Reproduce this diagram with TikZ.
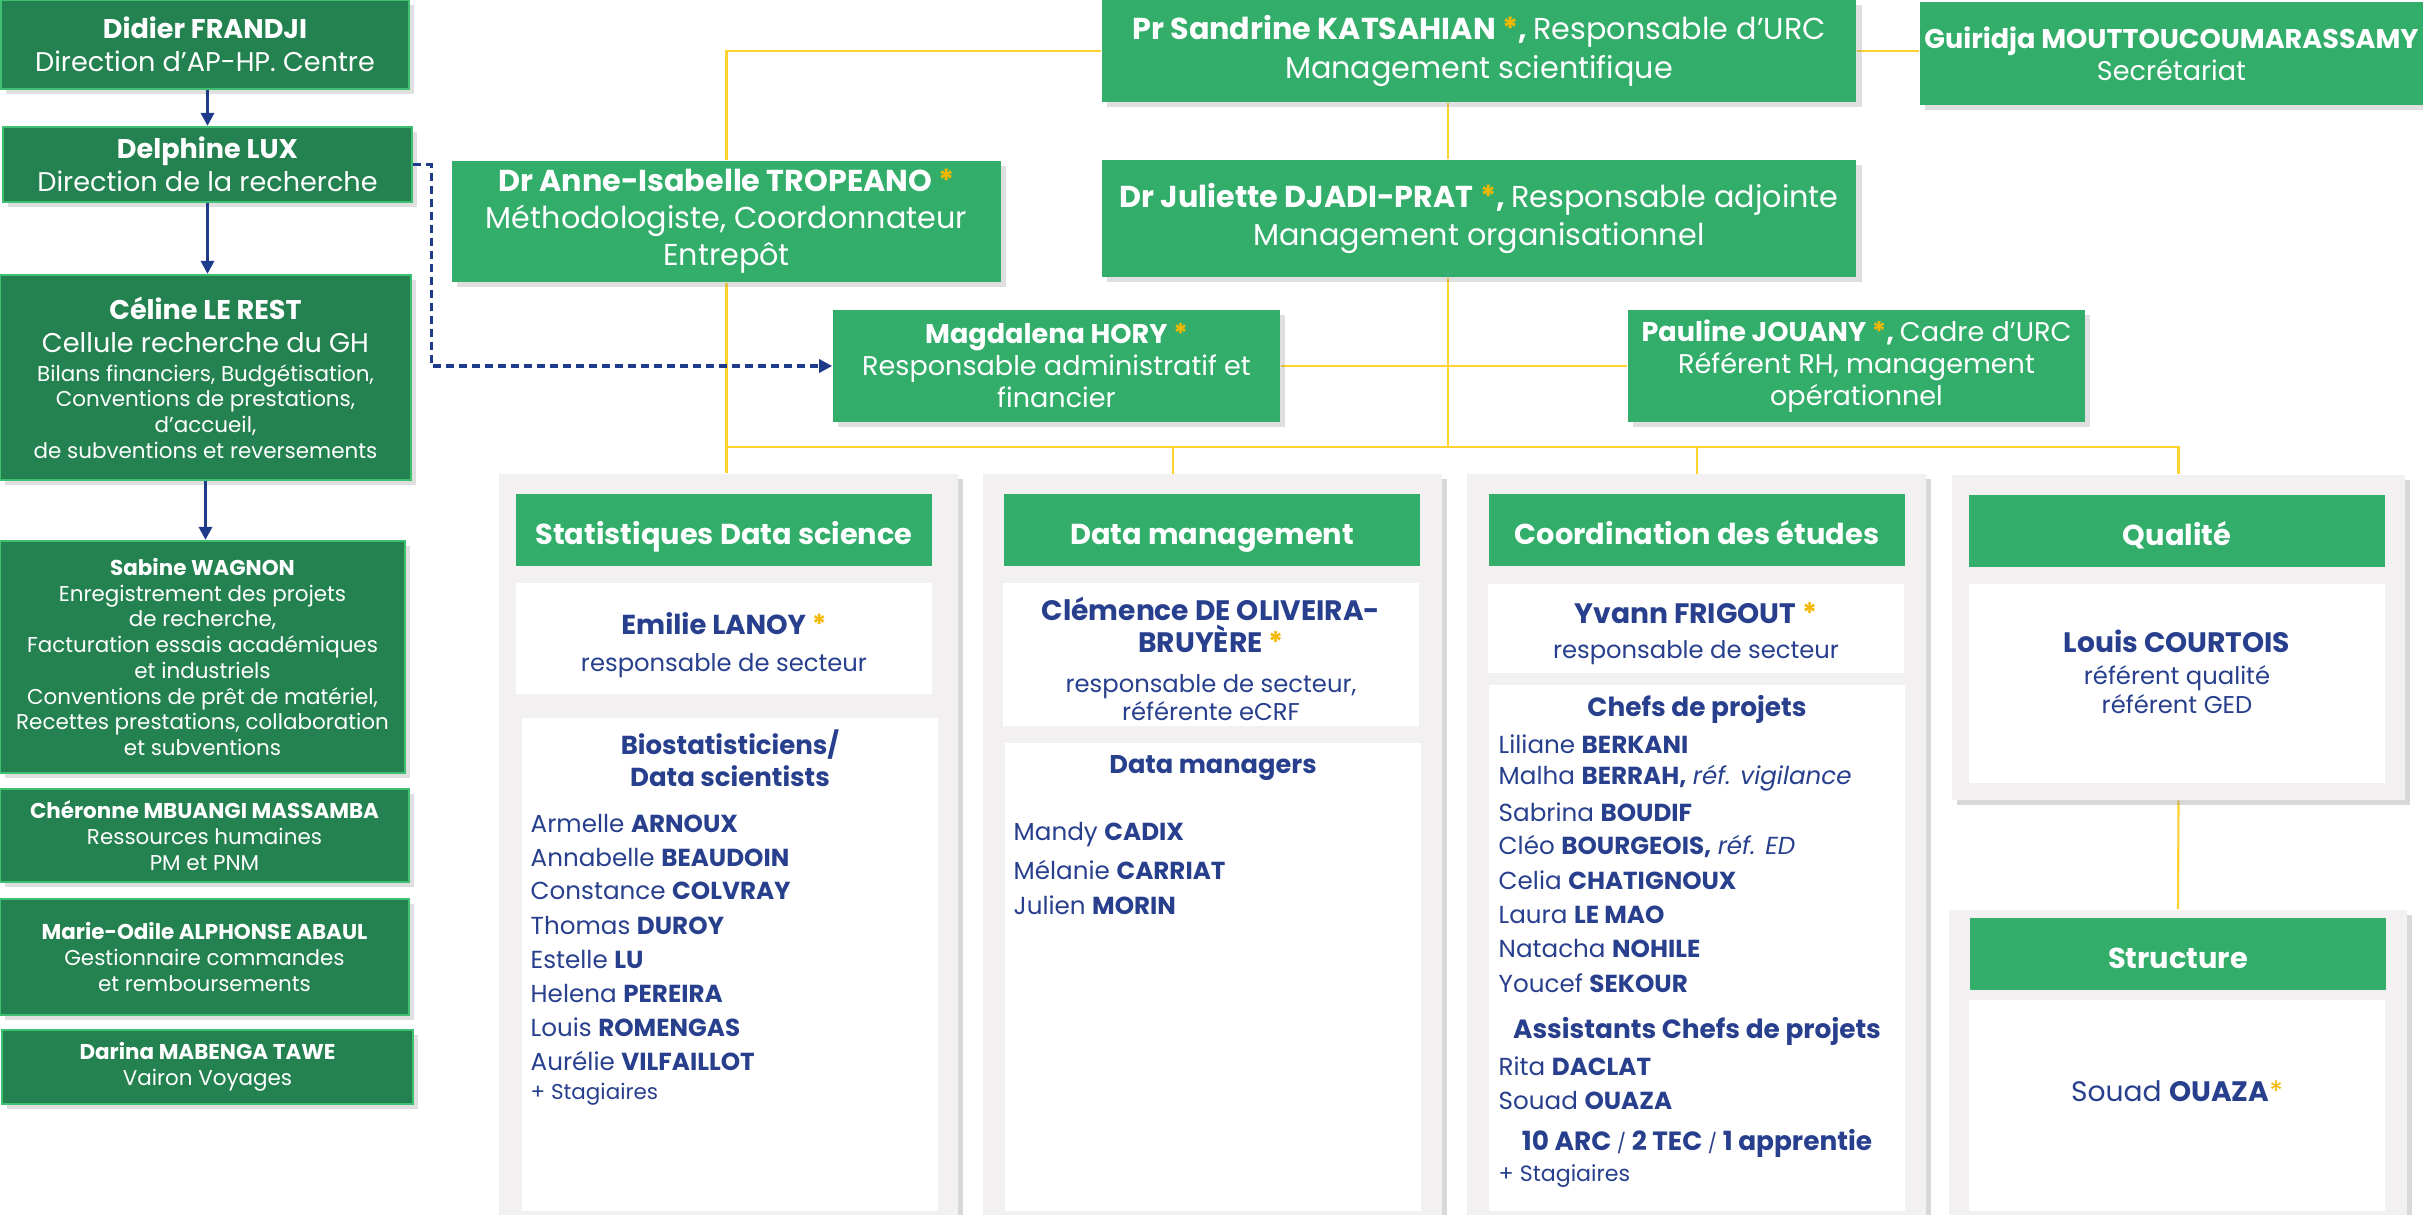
\documentclass[tikz,border=0pt]{standalone}
\usepackage{fontspec}
\setmainfont{Poppins}
\usetikzlibrary{arrows.meta,shadows,backgrounds}

\definecolor{urcgreen}{HTML}{32AD6A}
\definecolor{darkgreen}{HTML}{248250}
\definecolor{rimgreen}{HTML}{3FBF72}
\definecolor{navy}{HTML}{273F8D}
\definecolor{gold}{HTML}{FFD230}
\definecolor{star}{HTML}{F5B800}
\definecolor{panelgray}{HTML}{F2F0F0}
\definecolor{arrowblue}{HTML}{1E3A8A}

\newcommand{\fsz}[2]{\fontsize{#1}{#2}\selectfont}
\newcommand{\ystar}{{\color{star}*}}
\newcommand{\smalltxt}{\fsz{6.1}{7.3}}
\newcommand{\roletxt}{\fsz{6.9}{8}\mdseries}

\begin{document}
\begin{tikzpicture}[x=0.01cm, y=-0.01cm,
  lbox/.style={draw=rimgreen, line width=0.6pt, fill=darkgreen, text=white, align=center, inner sep=0pt,
    drop shadow={shadow xshift=1.5pt, shadow yshift=-1.5pt, opacity=0.25}},
  tbox/.style={fill=urcgreen, text=white, align=center, inner sep=0pt,
    drop shadow={shadow xshift=1.5pt, shadow yshift=-1.5pt, opacity=0.25}},
  greypanel/.style={fill=panelgray, inner sep=0pt, minimum width=4.59cm, anchor=north,
    drop shadow={shadow xshift=1.5pt, shadow yshift=-1.5pt, opacity=0.3}},
  secthead/.style={fill=urcgreen, text=white, inner sep=0pt, minimum width=4.16cm, minimum height=0.72cm,
    text height=8pt, text depth=0pt, font=\fsz{8.2}{10}\bfseries},
  wbox/.style={fill=white, inner sep=0pt, minimum width=4.16cm},
  navytxt/.style={text=navy, align=center, inner sep=0pt},
  person/.style={text=navy, anchor=west, inner sep=0pt, font=\fsz{7}{8}},
  goldline/.style={draw=gold, line width=0.6pt},
  bluearrow/.style={draw=arrowblue, line width=0.9pt, -{Triangle[length=0.13cm, width=0.13cm]}},
  bluedash/.style={bluearrow, dash pattern=on 0.08cm off 0.05cm}]

\useasboundingbox (0,0) rectangle (2423,1215);

% left column
\node[lbox, minimum width=4.08cm, minimum height=0.89cm, font=\fsz{7.7}{9.4}] (frandji) at (205,44.5) {\textbf{Didier FRANDJI}\\Direction d’AP-HP. Centre};
\node[lbox, minimum width=4.09cm, minimum height=0.75cm, font=\fsz{7.7}{9.4}] (lux) at (207.5,164.5) {\textbf{Delphine LUX}\\Direction de la recherche};
\node[lbox, minimum width=4.11cm, minimum height=2.05cm, font=\fsz{7.7}{9.4}] (lerest) at (205.5,377.5) {\textbf{Céline LE REST}\\Cellule recherche du GH\\[-1.1pt]{\smalltxt Bilans financiers, Budgétisation,}\\[-2.1pt]{\smalltxt Conventions de prestations,}\\[-2.1pt]{\smalltxt d’accueil,}\\[-2.1pt]{\smalltxt de subventions et reversements}};
\node[lbox, minimum width=4.05cm, minimum height=2.32cm, font=\fsz{6.1}{7.3}] (wagnon) at (202.5,657) {\textbf{Sabine WAGNON}\\Enregistrement des projets\\de recherche,\\Facturation essais académiques\\et industriels\\Conventions de prêt de matériel,\\Recettes prestations, collaboration\\et subventions};
\node[lbox, minimum width=4.09cm, minimum height=0.93cm, font=\fsz{6.1}{7.4}] (mbuangi) at (204.5,835.5) {\textbf{Chéronne MBUANGI MASSAMBA}\\Ressources humaines\\PM et PNM};
\node[lbox, minimum width=4.09cm, minimum height=1.16cm, font=\fsz{6.1}{7.4}] (alphonse) at (204.5,957) {\textbf{Marie-Odile ALPHONSE ABAUL}\\Gestionnaire commandes\\et remboursements};
\node[lbox, minimum width=4.11cm, minimum height=0.74cm, font=\fsz{6.1}{7.4}] (mabenga) at (207.5,1067) {\textbf{Darina MABENGA TAWE}\\Vairon Voyages};

% direction
\node[tbox, minimum width=7.54cm, minimum height=1.02cm, font=\fsz{8.6}{11}] (katsahian) at (1479,51) {\textbf{Pr Sandrine KATSAHIAN \ystar, }Responsable d’URC\\Management scientifique};
\node[tbox, minimum width=5.03cm, minimum height=1.03cm, font=\fsz{7.7}{9.1}] (guiridja) at (2171.5,53.5) {\textbf{Guiridja MOUTTOUCOUMARASSAMY}\\Secrétariat};
\node[tbox, minimum width=7.54cm, minimum height=1.17cm, font=\fsz{8.6}{10.8}] (djadi) at (1479,218.5) {\textbf{Dr Juliette DJADI-PRAT \ystar, }Responsable adjointe\\Management organisationnel};
\node[tbox, minimum width=5.49cm, minimum height=1.21cm, font=\fsz{8.6}{10.5}] (tropeano) at (726.5,221.5) {\textbf{Dr Anne-Isabelle TROPEANO \ystar}\\Méthodologiste, Coordonnateur\\Entrepôt};
\node[tbox, minimum width=4.47cm, minimum height=1.12cm, font=\fsz{7.7}{9.1}] (hory) at (1056.5,366) {\textbf{Magdalena HORY \ystar}\\Responsable administratif et\\financier};
\node[tbox, minimum width=4.57cm, minimum height=1.12cm, font=\fsz{7.7}{9.1}] (jouany) at (1856.5,366) {\textbf{Pauline JOUANY \ystar, }Cadre d’URC\\Référent RH, management\\opérationnel};

% sectors
\node[greypanel, minimum height=7.5cm] (statspanel) at (728.5,473) {};
\node[greypanel, minimum height=7.5cm] (dmpanel) at (1212.5,473) {};
\node[greypanel, minimum height=7.5cm] (coordpanel) at (1696.5,473) {};
\node[greypanel, minimum height=3.25cm, minimum width=4.53cm] (qualpanel) at (2178.5,474) {};
\node[greypanel, minimum height=3.2cm, minimum width=4.58cm] (structpanel) at (2178,909) {};

\node[secthead] (statshead) at (724,530) {Statistiques Data science};
\node[secthead] (dmhead) at (1212,530) {Data management};
\node[secthead] (coordhead) at (1697,530) {Coordination des études};
\node[secthead] (qualhead) at (2177,531) {Qualité};
\node[secthead] (structhead) at (2178,954) {Structure};

\node[wbox, minimum height=1.11cm] (lanoybox) at (724,638.5) {};
\node[wbox, minimum height=4.93cm, anchor=north] (biobox) at (730,717) {};
\node[wbox, minimum height=1.43cm] (oliveirabox) at (1211,654.5) {};
\node[wbox, minimum height=4.68cm, anchor=north] (dmbox) at (1213,742) {};
\node[wbox, minimum height=0.89cm] (frigoutbox) at (1696,628.5) {};
\node[wbox, minimum height=5.26cm, anchor=north] (chefsbox) at (1697,684) {};
\node[wbox, minimum height=1.99cm] (courtoisbox) at (2177,683.5) {};
\node[wbox, minimum height=2.11cm, anchor=north] (ouazabox) at (2177,999) {};

% statistiques
\node[navytxt, font=\fsz{7.8}{10.5}] (lanoy) at (724,645) {\textbf{Emilie LANOY \ystar}\\{\roletxt responsable de secteur}};
\node[navytxt, font=\fsz{7.4}{9.1}\bfseries] (biotitle) at (730,758) {Biostatisticiens/\\Data scientists};
\foreach \first/\last [count=\i from 0] in {Armelle/ARNOUX, Annabelle/BEAUDOIN, Constance/COLVRAY, Thomas/DUROY, Estelle/LU, Helena/PEREIRA, Louis/ROMENGAS, Aurélie/VILFAILLOT}
  \node[person] (bio\i) at (530,{823+34*\i}) {\first\ \textbf{\last}};
\node[person, font=\fsz{6.1}{7}] (biostag) at (530,1094) {+ Stagiaires};

% data management
\node[navytxt, font=\fsz{8}{9.1}\bfseries] (oliveira) at (1211,659) {Clémence DE OLIVEIRA-\\BRUYÈRE \ystar\\[2.3pt]{\roletxt responsable de secteur,}\\[-1.1pt]{\roletxt référente eCRF}};
\node[navytxt, font=\fsz{7.3}{9}\bfseries] (dmtitle) at (1213,768) {Data managers};
\foreach \first/\last [count=\i from 0] in {Mandy/CADIX, Mélanie/CARRIAT, Julien/MORIN}
  \node[person] (dm\i) at (1013,{835+35*\i}) {\first\ \textbf{\last}};

% coordination
\node[navytxt, font=\fsz{8}{10}\bfseries] (frigout) at (1696,634) {Yvann FRIGOUT \ystar\\{\roletxt responsable de secteur}};
\node[navytxt, font=\fsz{7.5}{9}\bfseries] (chefstitle) at (1697,709) {Chefs de projets};
\foreach \first/\last/\note [count=\i from 0] in {Liliane/BERKANI/{}, Malha/{BERRAH,}/réf. vigilance, Sabrina/BOUDIF/{}, Cléo/{BOURGEOIS,}/réf. ED, Celia/CHATIGNOUX/{}, Laura/LE MAO/{}, Natacha/NOHILE/{}, Youcef/SEKOUR/{}}
  \node[person] (cp\i) at (1498,{744+34.1*\i}) {\first\ \textbf{\last} \textit{\note}};
\node[navytxt, font=\fsz{7.5}{9}\bfseries] (asstitle) at (1697,1031) {Assistants Chefs de projets};
\node[person] (daclat) at (1498,1066) {Rita \textbf{DACLAT}};
\node[person] (ouazaacp) at (1498,1100) {Souad \textbf{OUAZA}};
\node[navytxt, font=\fsz{7.5}{9}\bfseries] (arctec) at (1697,1143) {10 ARC {\mdseries\fsz{5.5}{6}/} 2 TEC {\mdseries\fsz{5.5}{6}/} 1 apprentie};
\node[person, font=\fsz{6.3}{7}] (coordstag) at (1498,1176) {+ Stagiaires};

% qualite, structure
\node[navytxt, font=\fsz{8}{9.1}\bfseries] (courtois) at (2177,672) {Louis COURTOIS\\{\roletxt référent qualité}\\[-0.9pt]{\roletxt référent GED}};
\node[navytxt, font=\fsz{8}{9}] (ouaza) at (2177,1091) {Souad \textbf{OUAZA}\ystar};

\coordinate (spine) at (1448,447);
\coordinate (dmdrop) at (1173,447);

\begin{scope}[on background layer]
\fill[white] (0,0) rectangle (2423,1215);
\draw[goldline] (katsahian.west) -| (tropeano.north);
\draw[goldline] (katsahian.east) -- (katsahian.east -| guiridja.west);
\draw[goldline] (spine |- katsahian.south) -- (spine |- djadi.north);
\draw[goldline] (spine |- djadi.south) -- (spine);
\draw[goldline] (hory.east) -- (jouany.west);
\draw[goldline] (tropeano.south) -- (tropeano.south |- statspanel.north);
\draw[goldline] (tropeano.south |- spine) -- (qualpanel.north |- spine) -- (qualpanel.north);
\draw[goldline] (dmdrop) -- (dmdrop |- dmhead.north);
\draw[goldline] (coordhead.north |- spine) -- (coordhead.north);
\draw[goldline] (qualpanel.south) -- (structpanel.north);
\end{scope}

\draw[bluearrow] (lux.north |- frandji.south) -- (lux.north);
\draw[bluearrow] (lux.south) -- (lux.south |- lerest.north);
\draw[bluearrow] (lerest.south) -- (lerest.south |- wagnon.north);
\draw[bluedash] (lux.east) -- ++(18,0) |- (hory.west);
\end{tikzpicture}
\end{document}
